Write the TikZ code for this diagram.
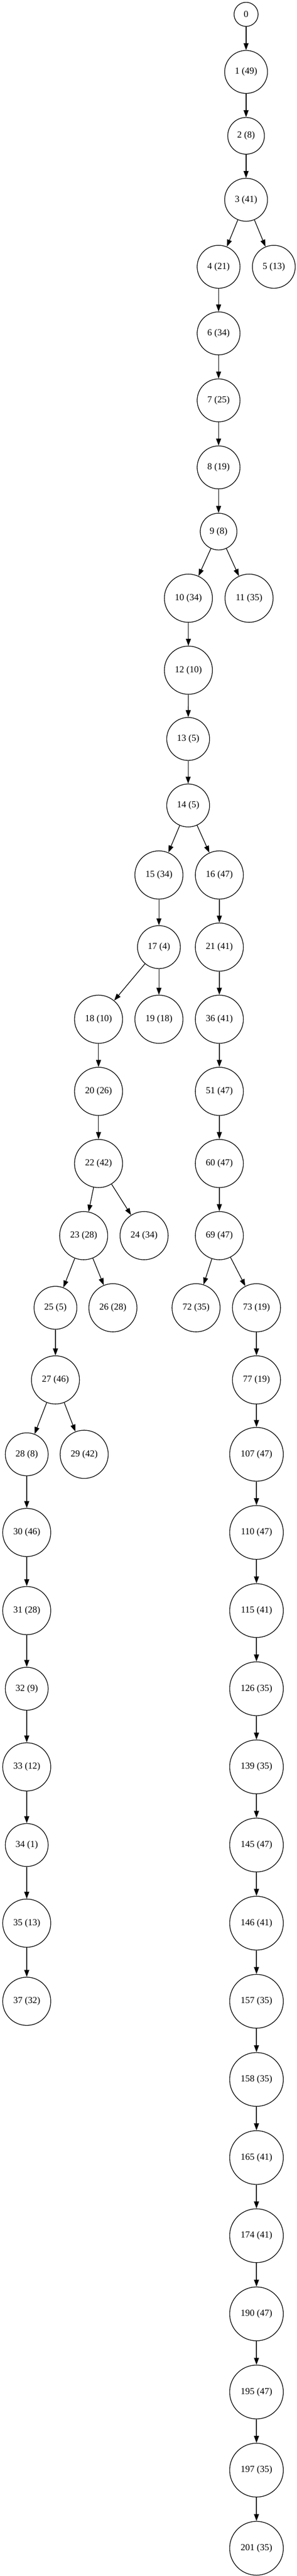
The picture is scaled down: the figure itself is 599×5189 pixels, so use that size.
\documentclass[tikz,border=0pt]{standalone}
\usepackage{fontspec}
\setmainfont{Liberation Serif}
\usetikzlibrary{arrows.meta}

\tikzset{
  vert/.style={circle, draw, line width=1pt, inner sep=0pt, font=\fontsize{14}{16}\selectfont},
  v1/.style={vert, minimum size=36.4pt},
  v2/.style={vert, minimum size=55.5pt},
  v3/.style={vert, minimum size=64.9pt},
  v4/.style={vert, minimum size=72.8pt},
  v5/.style={vert, minimum size=81.3pt}
}

\begin{document}
\begin{tikzpicture}[x=0.75pt, y=-0.75pt, >={Triangle[length=10.5pt,width=7.5pt]}]
            \useasboundingbox ( 0, 0 ) rectangle ( 599, 5189 );
            % ствол
            \node [v1] (n0) at ( 497, 28.9 ) {0};
            \node [v3] (n1) at ( 497, 144.9 ) {1 (49)};
            \node [v2] (n2) at ( 497, 273.6 ) {2 (8)};
            \node [v3] (n3) at ( 497, 402.4 ) {3 (41)};
            \node [v3] (n4) at ( 441.5, 537.4 ) {4 (21)};
            \node [v3] (n5) at ( 553, 537.4 ) {5 (13)};
            \node [v3] (n6) at ( 441.5, 671.5 ) {6 (34)};
            \node [v3] (n7) at ( 441.5, 806.5 ) {7 (25)};
            \node [v3] (n8) at ( 441.5, 941.5 ) {8 (19)};
            \node [v2] (n9) at ( 441.5, 1070.8 ) {9 (8)};
            \node [v4] (n10) at ( 380.5, 1205 ) {10 (34)};
            \node [v4] (n11) at ( 503, 1205 ) {11 (35)};
            \node [v4] (n12) at ( 380.5, 1350 ) {12 (10)};
            \node [v3] (n13) at ( 380, 1488.5 ) {13 (5)};
            \node [v3] (n14) at ( 380, 1622.5 ) {14 (5)};
            \node [v4] (n15) at ( 321, 1762.5 ) {15 (34)};
            \node [v4] (n16) at ( 443, 1762.5 ) {16 (47)};

            % левая ветка
            \node [v3] (n17) at ( 321, 1907.8 ) {17 (4)};
            \node [v4] (n18) at ( 199, 2053.1 ) {18 (10)};
            \node [v4] (n19) at ( 321, 2053.1 ) {19 (18)};
            \node [v4] (n20) at ( 199, 2198.4 ) {20 (26)};
            \node [v4] (n22) at ( 199, 2343.7 ) {22 (42)};
            \node [v4] (n23) at ( 169, 2489 ) {23 (28)};
            \node [v4] (n24) at ( 291, 2489 ) {24 (34)};
            \node [v3] (n25) at ( 112, 2634.3 ) {25 (5)};
            \node [v4] (n26) at ( 228, 2634.3 ) {26 (28)};
            \node [v4] (n27) at ( 112, 2779.6 ) {27 (46)};
            \node [v3] (n28) at ( 54, 2929.5 ) {28 (8)};
            \node [v4] (n29) at ( 170, 2929.5 ) {29 (42)};
            \node [v4] (n30) at ( 54, 3086.9 ) {30 (46)};
            \node [v4] (n31) at ( 54, 3244.3 ) {31 (28)};
            \node [v3] (n32) at ( 54, 3401.7 ) {32 (9)};
            \node [v4] (n33) at ( 54, 3559.1 ) {33 (12)};
            \node [v3] (n34) at ( 54, 3716.5 ) {34 (1)};
            \node [v4] (n35) at ( 54, 3873.9 ) {35 (13)};
            \node [v4] (n37) at ( 54, 4031.3 ) {37 (32)};

            % правая ветка
            \node [v4] (n21) at ( 443, 1907.8 ) {21 (41)};
            \node [v4] (n36) at ( 443, 2053.1 ) {36 (41)};
            \node [v4] (n51) at ( 443, 2198.4 ) {51 (47)};
            \node [v4] (n60) at ( 443, 2343.7 ) {60 (47)};
            \node [v4] (n69) at ( 443, 2489 ) {69 (47)};
            \node [v4] (n72) at ( 396, 2634.3 ) {72 (35)};
            \node [v4] (n73) at ( 518, 2634.3 ) {73 (19)};
            \node [v4] (n77) at ( 518, 2779.6 ) {77 (19)};
            \node [v5] (n107) at ( 518, 2929.5 ) {107 (47)};
            \node [v5] (n110) at ( 518, 3086.9 ) {110 (47)};
            \node [v5] (n115) at ( 518, 3244.3 ) {115 (41)};
            \node [v5] (n126) at ( 518, 3401.7 ) {126 (35)};
            \node [v5] (n139) at ( 518, 3559.1 ) {139 (35)};
            \node [v5] (n145) at ( 518, 3716.5 ) {145 (47)};
            \node [v5] (n146) at ( 518, 3873.9 ) {146 (41)};
            \node [v5] (n157) at ( 518, 4031.3 ) {157 (35)};
            \node [v5] (n158) at ( 518, 4188.7 ) {158 (35)};
            \node [v5] (n165) at ( 518, 4346.1 ) {165 (41)};
            \node [v5] (n174) at ( 518, 4503.5 ) {174 (41)};
            \node [v5] (n190) at ( 518, 4660.9 ) {190 (47)};
            \node [v5] (n195) at ( 518, 4818.3 ) {195 (47)};
            \node [v5] (n197) at ( 518, 4975.7 ) {197 (35)};
            \node [v5] (n201) at ( 518, 5133.1 ) {201 (35)};

            % рёбра
            \draw [->, line width=1pt] (n0) -- (n1);
            \draw [->, line width=1pt] (n1) -- (n2);
            \draw [->, line width=1pt] (n2) -- (n3);
            \draw [->, line width=1pt] (n3) -- (n4);
            \draw [->, line width=1pt] (n3) -- (n5);
            \draw [->, line width=1pt] (n4) -- (n6);
            \draw [->, line width=1pt] (n6) -- (n7);
            \draw [->, line width=1pt] (n7) -- (n8);
            \draw [->, line width=1pt] (n8) -- (n9);
            \draw [->, line width=1pt] (n9) -- (n10);
            \draw [->, line width=1pt] (n9) -- (n11);
            \draw [->, line width=1pt] (n10) -- (n12);
            \draw [->, line width=1pt] (n12) -- (n13);
            \draw [->, line width=1pt] (n13) -- (n14);
            \draw [->, line width=1pt] (n14) -- (n15);
            \draw [->, line width=1pt] (n14) -- (n16);
            \draw [->, line width=1pt] (n15) -- (n17);
            \draw [->, line width=1pt] (n17) -- (n18);
            \draw [->, line width=1pt] (n17) -- (n19);
            \draw [->, line width=1pt] (n18) -- (n20);
            \draw [->, line width=1pt] (n20) -- (n22);
            \draw [->, line width=1pt] (n22) -- (n23);
            \draw [->, line width=1pt] (n22) -- (n24);
            \draw [->, line width=1pt] (n23) -- (n25);
            \draw [->, line width=1pt] (n23) -- (n26);
            \draw [->, line width=1pt] (n25) -- (n27);
            \draw [->, line width=1pt] (n27) -- (n28);
            \draw [->, line width=1pt] (n27) -- (n29);
            \draw [->, line width=1pt] (n28) -- (n30);
            \draw [->, line width=1pt] (n30) -- (n31);
            \draw [->, line width=1pt] (n31) -- (n32);
            \draw [->, line width=1pt] (n32) -- (n33);
            \draw [->, line width=1pt] (n33) -- (n34);
            \draw [->, line width=1pt] (n34) -- (n35);
            \draw [->, line width=1pt] (n35) -- (n37);
            \draw [->, line width=1pt] (n16) -- (n21);
            \draw [->, line width=1pt] (n21) -- (n36);
            \draw [->, line width=1pt] (n36) -- (n51);
            \draw [->, line width=1pt] (n51) -- (n60);
            \draw [->, line width=1pt] (n60) -- (n69);
            \draw [->, line width=1pt] (n69) -- (n72);
            \draw [->, line width=1pt] (n69) -- (n73);
            \draw [->, line width=1pt] (n73) -- (n77);
            \draw [->, line width=1pt] (n77) -- (n107);
            \draw [->, line width=1pt] (n107) -- (n110);
            \draw [->, line width=1pt] (n110) -- (n115);
            \draw [->, line width=1pt] (n115) -- (n126);
            \draw [->, line width=1pt] (n126) -- (n139);
            \draw [->, line width=1pt] (n139) -- (n145);
            \draw [->, line width=1pt] (n145) -- (n146);
            \draw [->, line width=1pt] (n146) -- (n157);
            \draw [->, line width=1pt] (n157) -- (n158);
            \draw [->, line width=1pt] (n158) -- (n165);
            \draw [->, line width=1pt] (n165) -- (n174);
            \draw [->, line width=1pt] (n174) -- (n190);
            \draw [->, line width=1pt] (n190) -- (n195);
            \draw [->, line width=1pt] (n195) -- (n197);
            \draw [->, line width=1pt] (n197) -- (n201);
        \end{tikzpicture}
\end{document}
